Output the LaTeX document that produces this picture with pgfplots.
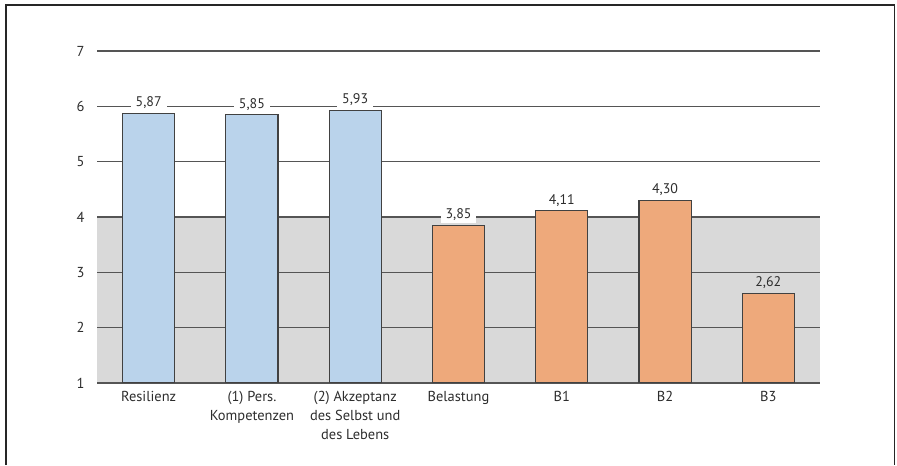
\documentclass[border=0pt]{standalone}
\usepackage{pgfplots}
\pgfplotsset{compat=1.18}
\usepackage{fontspec}
\setmainfont{PT Sans}
\definecolor{barblue}{RGB}{186,211,235}
\definecolor{barorange}{RGB}{238,169,123}
\definecolor{band}{RGB}{217,217,217}
\definecolor{gridc}{RGB}{85,85,85}
\definecolor{edgec}{RGB}{65,65,65}
\definecolor{txt}{RGB}{45,45,45}
\pgfplotsset{
  vallabel/.style={nodes near coords,
    nodes near coords style={font=\fontsize{14}{15}\selectfont, text=txt, fill=#1, inner xsep=5bp, inner ysep=2bp, anchor=south, yshift=2bp,
    /pgf/number format/.cd, fixed, fixed zerofill, precision=2, use comma, assume math mode=true}},
  mybar/.style={ybar, bar width=0.505, bar shift=0pt, fill=#1, draw=edgec, line width=1.1bp},
}
\begin{document}
\begin{tikzpicture}
\begin{axis}[
  set layers,
  at={(97bp,82bp)}, anchor=south west,
  scale only axis, width=723bp, height=332bp,
  xmin=-0.5, xmax=6.5, ymin=1, ymax=7,
  ytick={1,2,3,4,5,6,7},
  xtick={0,1,2,3,4,5,6},
  xticklabels={Resilienz,{(1) Pers.\\Kompetenzen},{(2) Akzeptanz\\des Selbst und\\des Lebens},Belastung,B1,B2,B3},
  major tick length=0pt,
  axis y line*=left, axis x line*=bottom,
  y axis line style={draw=none},
  x axis line style={draw=gridc, line width=1.3bp},
  ymajorgrids, grid style={draw=gridc, line width=1.3bp},
  /pgf/number format/assume math mode=true,
  ticklabel style={font=\fontsize{14.5}{19}\selectfont, text=txt},
  xticklabel style={align=center, yshift=-5bp},
  yticklabel style={xshift=-9bp},
]
\addplot[draw=none, fill=band, on layer=axis background] coordinates {(-0.5,1) (-0.5,4) (6.5,4) (6.5,1)} -- cycle;
\addplot[mybar=barblue, vallabel=white] coordinates {(0,5.87) (1,5.85) (2,5.93)};
\addplot[mybar=barorange, vallabel=white] coordinates {(3,3.85) (4,4.11) (5,4.30)};
\addplot[mybar=barorange, vallabel=band] coordinates {(6,2.62)};
\end{axis}
\draw[line width=1.2bp, black!85] (6bp,0bp) -- (6bp,460bp) -- (894.5bp,460bp) -- (894.5bp,0bp);
\useasboundingbox (0,0) rectangle (897bp,465bp);
\end{tikzpicture}
\end{document}
